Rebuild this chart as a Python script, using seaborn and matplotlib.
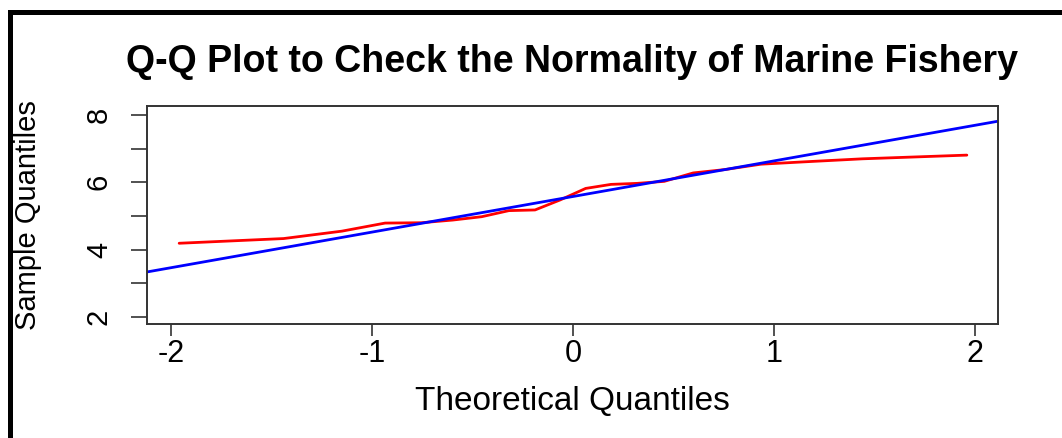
import numpy as np
import pandas as pd
import matplotlib
matplotlib.use("Agg")
import matplotlib.pyplot as plt
from matplotlib.patches import Rectangle
import seaborn as sns

# Theoretical normal quantiles (n = 20) and sorted sample values
theoretical = [-1.960, -1.440, -1.150, -0.935, -0.755, -0.598, -0.454, -0.319, -0.189, -0.063,
               0.063, 0.189, 0.319, 0.454, 0.598, 0.755, 0.935, 1.150, 1.440, 1.960]
sample = [4.19, 4.33, 4.55, 4.79, 4.80, 4.88, 4.98, 5.16, 5.18, 5.48,
          5.82, 5.94, 5.97, 6.03, 6.28, 6.38, 6.54, 6.61, 6.70, 6.81]

# qqline
line_intercept = 5.58
line_slope = 1.058

x_ticks = [-2, -1, 0, 1, 2]
y_ticks = [2, 3, 4, 5, 6, 7, 8]
y_tick_labels = ['2', '', '4', '', '6', '', '8']

TITLE = 'Q-Q Plot to Check the Normality of Marine Fishery'
XLABEL = 'Theoretical Quantiles'
YLABEL = 'Sample Quantiles'

sns.set_theme(style='white')
plt.rcParams['font.family'] = ['Liberation Sans', 'DejaVu Sans']
plt.rcParams['text.color'] = 'black'
plt.rcParams['xtick.labelcolor'] = 'black'
plt.rcParams['ytick.labelcolor'] = 'black'

df = pd.DataFrame({'theoretical': theoretical, 'sample': sample})

fig = plt.figure(figsize=(10.62, 4.38), dpi=100)
W, H = 1062, 438
ax = fig.add_axes([147 / W, 1 - 324 / H, (998 - 147) / W, (324 - 106) / H])

sns.lineplot(data=df, x='theoretical', y='sample', color='#ff0000', linewidth=2,
             estimator=None, sort=False, ax=ax)
ax.axline((0, line_intercept), slope=line_slope, color='#0000ff', linewidth=2)

ax.set_xlim(-2.12, 2.115)
ax.set_ylim(1.79, 8.27)
ax.set_xticks(x_ticks)
ax.set_xticklabels([str(t) for t in x_ticks], fontsize=22, color='black')
ax.set_yticks(y_ticks)
ax.set_yticklabels(y_tick_labels, fontsize=21, rotation=90, va='center', color='black')
ax.tick_params(axis='x', direction='out', length=8.6, width=1.2, color='#333333', pad=2.5, bottom=True)
ax.tick_params(axis='y', direction='out', length=11.5, width=1.2, color='#333333', pad=13, left=True)
ax.set_xlabel('')
ax.set_ylabel('')
for s in ax.spines.values():
    s.set_color('#333333')
    s.set_linewidth(1.4)

cx = (147 + 998) / 2 / W
fig.text(cx, 1 - 72 / H, TITLE, ha='center', va='baseline', fontsize=27, fontweight='bold',
         color='black')
fig.text(cx, 1 - 410 / H, XLABEL, ha='center', va='baseline', fontsize=24, color='black')
fig.text(28 / W, 1 - 215 / H, YLABEL, ha='center', va='center', rotation=90, fontsize=21,
         color='black')

# outer black frame (only top and left edges are visible in the image)
fig.patches.append(Rectangle((9.5 / W, -0.5), 2, 1.5 - 12 / H, transform=fig.transFigure,
                             fill=False, edgecolor='black', linewidth=3.6))

fig.savefig('out.png', dpi=100)
